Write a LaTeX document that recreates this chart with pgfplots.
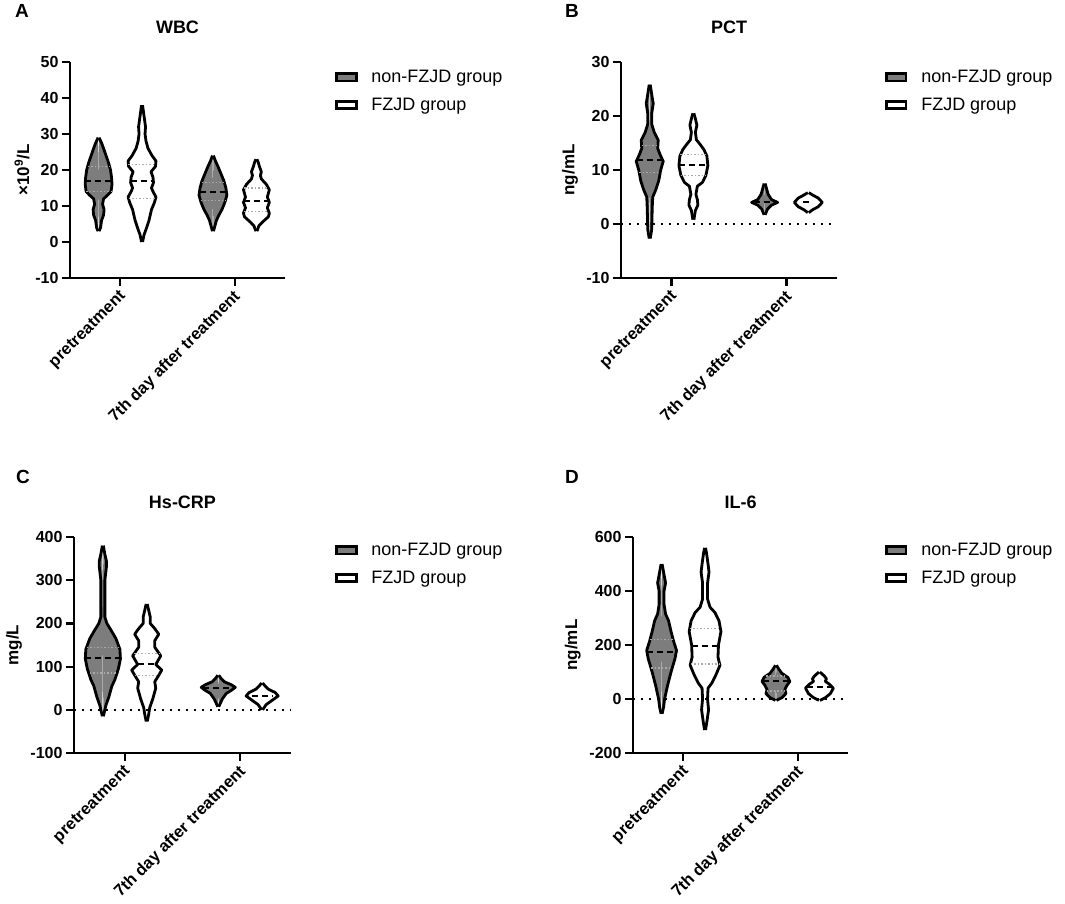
\documentclass[border=0pt]{standalone}
\usepackage{fontspec}
\setmainfont{Liberation Sans}
\usepackage{pgfplots}
\pgfplotsset{compat=1.18}
\usepackage{pgfplotstable}
\usepgfplotslibrary{fillbetween}

\definecolor{vgray}{RGB}{125,125,125}
\definecolor{qgray}{RGB}{170,170,170}

% violin outline: v = value, w = half width in px (115 px per category)
% WBC
\pgfplotstableread{
v w
3 0.5
4 2
6 3
7.5 5
9 5.5
10.5 4
12 5
13 9
14 12.5
16 13.5
18 13
20 12
22 10
24 7.5
26 5
27.5 3
29 0.5
}\wbcNonPre
\pgfplotstableread{
v w
0 0.5
2 2
3.5 4
6 7
9 9.5
11 12.5
12.5 14
14 11
15 9.5
16.5 11.5
18 11
19.5 9
21 13.5
22.5 14
24 10
26 6
28 4
30 3
32 3.5
34 2.5
36 1.5
38 0.5
}\wbcFzPre
\pgfplotstableread{
v w
3 0.5
4.5 2
6 3.5
7.5 6
9 9
11 12
13 14
15 13
17 11
19 8
21 5
22.5 2.5
24 0.5
}\wbcNonSev
\pgfplotstableread{
v w
3 0.5
4.5 2.5
5.5 6
7 12
8 13
9.5 11
11 13
12.5 11
14.5 13
16 10
17.5 5
18.5 4
19.5 5
21 3
22 2
23 0.5
}\wbcFzSev
% PCT
\pgfplotstableread{
v w
-2.7 0.5
-1 2
3 2.5
5 3
6.3 6
8 9
10 11
11.6 13.5
12.8 10.5
14 8
15.5 8.5
17 4.5
18.5 2
20.5 2
22.3 3.5
24 2
25.8 0.5
}\pctNonPre
\pgfplotstableread{
v w
0.8 0.5
2.5 2
3.5 4.5
4.5 4
5.5 2.5
7 4
7.7 9
9 12.5
10.8 14.5
12.6 13.5
13.8 10.5
14.8 6.5
15.6 3
17 2
18.3 3.5
19.5 2
20.5 0.5
}\pctFzPre
\pgfplotstableread{
v w
1.7 0.5
2.8 3
3.5 7
4 13
4.5 7
5.5 3.5
6.5 2
7.5 0.5
}\pctNonSev
\pgfplotstableread{
v w
2.1 0.5
2.6 4
3.2 10
4 14
4.8 10
5.3 5
5.8 0.5
}\pctFzSev
% Hs-CRP
\pgfplotstableread{
v w
-15 0.5
0 2
10 3
30 6
55 9
70 12
95 15.5
118 17.5
140 17
165 13
185 8
200 4
215 2
300 2
330 3.5
345 3.5
360 2
380 0.5
}\crpNonPre
\pgfplotstableread{
v w
-27 0.5
-10 2
5 3
25 6
50 9
65 8
80 12
92 15
105 9
125 14
145 8
160 8
175 12
188 8
200 3.5
215 3.5
230 2
245 0.5
}\crpFzPre
\pgfplotstableread{
v w
7 0.5
25 4
38 8
45 13
52 17
58 13
65 6
72 3
80 0.5
}\crpNonSev
\pgfplotstableread{
v w
0 0.5
12 4
22 10
32 16
40 13
48 6
55 3
62 0.5
}\crpFzSev
% IL-6
\pgfplotstableread{
v w
-55 0.5
-30 2
0 3
50 6
100 9.5
150 13.5
180 15
215 12
250 9.5
290 7
315 4
350 2.5
400 2.5
430 4
460 2.5
500 0.5
}\ilNonPre
\pgfplotstableread{
v w
-115 0.5
-80 2
-40 3.5
0 2.5
40 3
60 7
90 11
125 15
155 13
200 13.5
250 16
290 14
320 10
340 5
370 2.5
430 2.5
470 4
500 3
540 1.5
560 0.5
}\ilFzPre
\pgfplotstableread{
v w
-5 0.5
5 6
20 10
35 9
50 11
65 14
80 12
95 6
110 3
125 0.5
}\ilNonSev
\pgfplotstableread{
v w
-5 0.5
5 6
20 11
40 14
55 10
65 6
75 7
85 5
95 2
100 0.5
}\ilFzSev

\newcommand{\violin}[4]{% position, table, fill colour, path id
  \addplot[draw=none, name path=R#4, forget plot] table[x expr=#1+\thisrow{w}/115, y=v] {#2};
  \addplot[draw=none, name path=L#4, forget plot] table[x expr=#1-\thisrow{w}/115, y=v] {#2};
  \addplot[fill=#3, draw=none, forget plot] fill between[of=R#4 and L#4];
  \addplot[vline, forget plot] table[x expr=#1+\thisrow{w}/115, y=v] {#2};
  \addplot[vline, forget plot] table[x expr=#1-\thisrow{w}/115, y=v] {#2};
}
% horizontal line across a violin: position, value, half width (px), style
\newcommand{\qline}[4]{%
  \addplot[#4, forget plot] table[row sep=\\, x expr=#1+\thisrow{s}*#3/115, y expr=#2] {s\\-1\\1\\};
}

\pgfplotsset{
  violin axis/.style={
    scale only axis, height=216pt,
    axis x line*=bottom, axis y line*=left,
    axis line style={line width=2.2pt},
    tick style={line width=2.2pt, black},
    major tick length=8pt, tick align=outside,
    xmin=-0.44, xmax=1.44, xtick={0,1},
    xticklabels={pretreatment,7th day after treatment},
    x tick label style={rotate=45, anchor=east, yshift=-8pt,
      font=\fontsize{16.5}{18}\selectfont\bfseries},
    y tick label style={font=\fontsize{16}{18}\selectfont\bfseries},
    /pgf/number format/assume math mode=true,
    title style={font=\fontsize{18}{20}\selectfont\bfseries, at={(0.5,1)}, anchor=south, yshift=19pt},
    ylabel style={font=\fontsize{17}{20}\selectfont\bfseries, anchor=center},
    legend style={draw=none, fill=none, font=\fontsize{18}{20}\selectfont,
      anchor=north west, row sep=10pt, inner sep=0pt},
    legend cell align=left,
  },
  box legend/.style={legend image code/.code={%
    \draw[line width=2.6pt, fill=#1] (1.3pt,-3.7pt) rectangle (21pt,3.7pt);
    \path[draw=none, fill=none] (34pt,0pt) circle (0.1pt);}},
  vline/.style={black, line width=2.8pt, line join=round},
  median/.style={black, line width=2pt, dash pattern=on 6pt off 4pt},
  quart/.style={qgray, line width=1.2pt, dash pattern=on 1.5pt off 2pt},
  zeroline/.style={black, line width=2.2pt, dash pattern=on 2pt off 6pt},
}

\begin{document}
\begin{tikzpicture}
\node[font=\fontsize{19}{20}\selectfont\bfseries] at (22pt,892pt) {A};
\node[font=\fontsize{19}{20}\selectfont\bfseries] at (572pt,892pt) {B};
\node[font=\fontsize{19}{20}\selectfont\bfseries] at (23pt,426pt) {C};
\node[font=\fontsize{19}{20}\selectfont\bfseries] at (572pt,426pt) {D};

% A: WBC
\begin{axis}[violin axis, at={(70pt,625pt)}, width=215pt,
  ymin=-10, ymax=50, ytick={-10,0,10,20,30,40,50},
  title={WBC}, ylabel={×10\textsuperscript{9}/L},
  ylabel style={at={(rel axis cs:-0.223,0.5)}},
  legend style={at={(1.233,1)}, yshift=-6pt}]
\violin{-0.19}{\wbcNonPre}{vgray}{A1}
\violin{0.19}{\wbcFzPre}{white}{A2}
\violin{0.81}{\wbcNonSev}{vgray}{A3}
\violin{1.19}{\wbcFzSev}{white}{A4}
\qline{-0.19}{14}{12.5}{quart}
\qline{-0.19}{21}{11}{quart}
\qline{-0.19}{17}{13.5}{median}
\qline{0.19}{12}{13.5}{quart}
\qline{0.19}{21.5}{13.7}{quart}
\qline{0.19}{17}{11.3}{median}
\qline{0.81}{11.5}{12.5}{quart}
\qline{0.81}{16.5}{11.5}{quart}
\qline{0.81}{14}{13.5}{median}
\qline{1.19}{8.5}{12}{quart}
\qline{1.19}{15}{12}{quart}
\qline{1.19}{11.5}{12.3}{median}
\addlegendimage{box legend=vgray}
\addlegendentry{non-FZJD group}
\addlegendimage{box legend=white}
\addlegendentry{FZJD group}
\end{axis}

% B: PCT
\begin{axis}[violin axis, at={(621pt,625pt)}, width=216pt,
  ymin=-10, ymax=30, ytick={-10,0,10,20,30},
  title={PCT}, ylabel={ng/mL},
  ylabel style={at={(rel axis cs:-0.236,0.5)}},
  legend style={at={(1.222,1)}, yshift=-6pt}]
\addplot[zeroline, forget plot] coordinates {(-0.44,0) (1.44,0)};
\violin{-0.19}{\pctNonPre}{vgray}{B1}
\violin{0.19}{\pctFzPre}{white}{B2}
\violin{0.81}{\pctNonSev}{vgray}{B3}
\violin{1.19}{\pctFzSev}{white}{B4}
\qline{-0.19}{9.5}{10.5}{quart}
\qline{-0.19}{14.5}{8}{quart}
\qline{-0.19}{11.8}{13}{median}
\qline{0.19}{9}{12.5}{quart}
\qline{0.19}{12.8}{13}{quart}
\qline{0.19}{11}{14.5}{median}
\qline{0.81}{4}{11}{median}
\qline{1.19}{4}{5}{median}
\addlegendimage{box legend=vgray}
\addlegendentry{non-FZJD group}
\addlegendimage{box legend=white}
\addlegendentry{FZJD group}
\end{axis}

% C: Hs-CRP
\begin{axis}[violin axis, at={(74pt,150pt)}, width=217pt,
  ymin=-100, ymax=400, ytick={-100,0,100,200,300,400},
  title={Hs-CRP}, ylabel={mg/L},
  ylabel style={at={(rel axis cs:-0.276,0.5)}},
  legend style={at={(1.203,1)}, yshift=-4pt}]
\addplot[zeroline, forget plot] coordinates {(-0.44,0) (1.44,0)};
\violin{-0.19}{\crpNonPre}{vgray}{C1}
\violin{0.19}{\crpFzPre}{white}{C2}
\violin{0.81}{\crpNonSev}{vgray}{C3}
\violin{1.19}{\crpFzSev}{white}{C4}
\qline{-0.19}{85}{13}{quart}
\qline{-0.19}{145}{16}{quart}
\qline{-0.19}{120}{17.5}{median}
\qline{0.19}{80}{12}{quart}
\qline{0.19}{130}{12.5}{quart}
\qline{0.19}{105}{9}{median}
\qline{0.81}{50}{15}{median}
\qline{1.19}{32}{10}{median}
\addlegendimage{box legend=vgray}
\addlegendentry{non-FZJD group}
\addlegendimage{box legend=white}
\addlegendentry{FZJD group}
\end{axis}

% D: IL-6
\begin{axis}[violin axis, at={(633pt,150pt)}, width=215pt,
  ymin=-200, ymax=600, ytick={-200,0,200,400,600},
  title={IL-6}, ylabel={ng/mL},
  ylabel style={at={(rel axis cs:-0.28,0.5)}},
  legend style={at={(1.172,1)}, yshift=-4pt}]
\addplot[zeroline, forget plot] coordinates {(-0.44,0) (1.44,0)};
\violin{-0.19}{\ilNonPre}{vgray}{D1}
\violin{0.19}{\ilFzPre}{white}{D2}
\violin{0.81}{\ilNonSev}{vgray}{D3}
\violin{1.19}{\ilFzSev}{white}{D4}
\qline{-0.19}{115}{10.5}{quart}
\qline{-0.19}{220}{11.5}{quart}
\qline{-0.19}{175}{15}{median}
\qline{0.19}{130}{14.5}{quart}
\qline{0.19}{260}{15.5}{quart}
\qline{0.19}{195}{13.5}{median}
\qline{0.81}{30}{9.5}{quart}
\qline{0.81}{85}{10}{quart}
\qline{0.81}{65}{13}{median}
\qline{1.19}{45}{12}{median}
\addlegendimage{box legend=vgray}
\addlegendentry{non-FZJD group}
\addlegendimage{box legend=white}
\addlegendentry{FZJD group}
\end{axis}
\pgfresetboundingbox
\useasboundingbox (0,0) rectangle (1065pt,903pt);
\end{tikzpicture}
\end{document}
